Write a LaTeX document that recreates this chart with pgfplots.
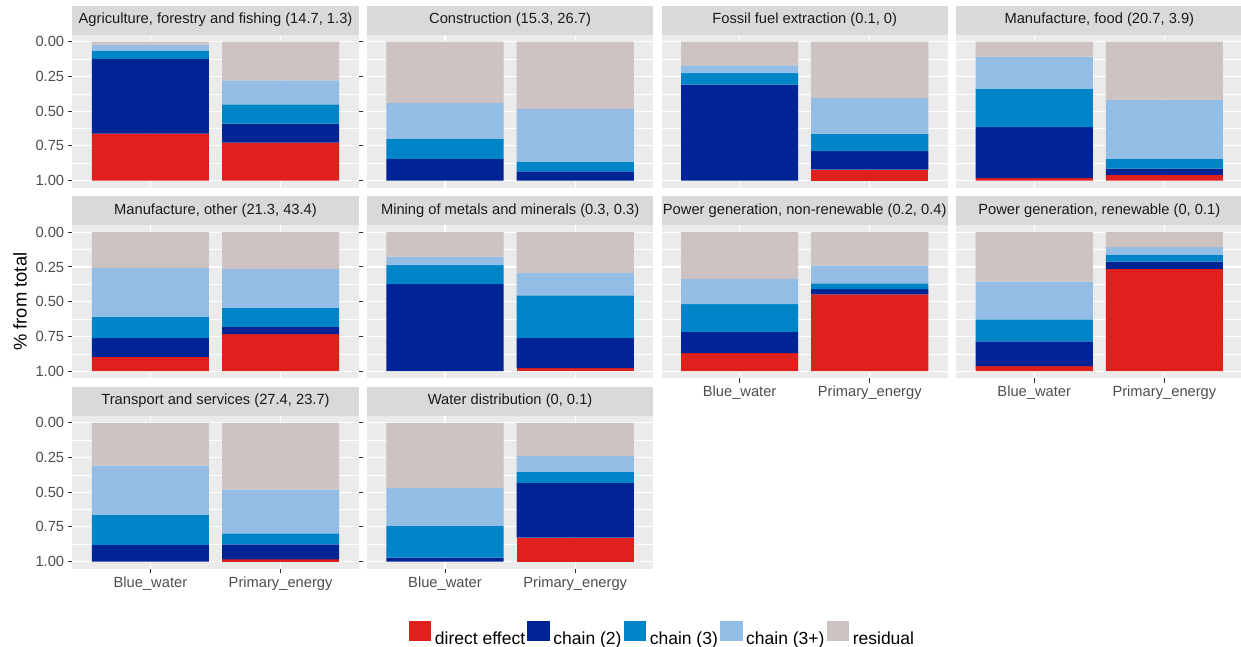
\documentclass[border=0pt]{standalone}
\usepackage{pgfplots}
\usepackage{pgfplotstable}
\pgfplotsset{compat=1.18}
\usepackage{fontspec}
\setmainfont{Liberation Sans}

\definecolor{panelbg}{HTML}{EBEBEB}
\definecolor{stripbg}{HTML}{D9D9D9}
\definecolor{stripfg}{HTML}{1A1A1A}
\definecolor{tickfg}{HTML}{4D4D4D}
\definecolor{tickmk}{HTML}{333333}
\definecolor{cdirect}{HTML}{E0201D}
\definecolor{ctwo}{HTML}{002496}
\definecolor{cthree}{HTML}{0084C8}
\definecolor{cthreep}{HTML}{93BDE4}
\definecolor{cresid}{HTML}{CEC3C3}

\newcommand\ggfont{\fontsize{14.7}{17.6}\selectfont}
\newcommand\ggtitle{\fontsize{18.4}{22}\selectfont}
\newcommand\gglegend{\fontsize{17.5}{21}\selectfont}

% shares of each effect; x = 1 Blue_water, x = 2 Primary_energy
\pgfplotstableread{
x resid c3p c3 c2 direct
1 0.020 0.045 0.058 0.538 0.339
2 0.279 0.171 0.139 0.137 0.274
}\agri
\pgfplotstableread{
x resid c3p c3 c2 direct
1 0.440 0.260 0.144 0.156 0.000
2 0.483 0.380 0.070 0.067 0.000
}\constr
\pgfplotstableread{
x resid c3p c3 c2 direct
1 0.171 0.055 0.082 0.692 0.000
2 0.406 0.255 0.127 0.133 0.079
}\fossil
\pgfplotstableread{
x resid c3p c3 c2 direct
1 0.108 0.229 0.278 0.366 0.019
2 0.416 0.428 0.069 0.046 0.041
}\food
\pgfplotstableread{
x resid c3p c3 c2 direct
1 0.258 0.350 0.155 0.134 0.103
2 0.266 0.279 0.137 0.052 0.266
}\other
\pgfplotstableread{
x resid c3p c3 c2 direct
1 0.175 0.062 0.136 0.627 0.000
2 0.292 0.163 0.308 0.215 0.022
}\mining
\pgfplotstableread{
x resid c3p c3 c2 direct
1 0.335 0.182 0.201 0.153 0.129
2 0.240 0.128 0.041 0.038 0.553
}\nonren
\pgfplotstableread{
x resid c3p c3 c2 direct
1 0.356 0.271 0.158 0.179 0.036
2 0.108 0.055 0.048 0.052 0.737
}\renew
\pgfplotstableread{
x resid c3p c3 c2 direct
1 0.309 0.353 0.218 0.120 0.000
2 0.482 0.314 0.079 0.108 0.017
}\transport
\pgfplotstableread{
x resid c3p c3 c2 direct
1 0.469 0.274 0.228 0.029 0.000
2 0.240 0.111 0.082 0.394 0.173
}\waterdist

\pgfplotsset{
  facet/.style={
    scale only axis, width=286.4pt, height=152.8pt,
    xmin=0.4, xmax=2.6, ymin=-0.05, ymax=1.05, y dir=reverse,
    ybar stacked, bar width=0.9,
    axis background/.style={fill=panelbg},
    axis line style={draw=none},
    xtick={1,2}, ytick={0,0.25,0.5,0.75,1},
    minor ytick={0.125,0.375,0.625,0.875},
    xmajorgrids, ymajorgrids, yminorgrids,
    major grid style={white, line width=1.1pt},
    minor grid style={white, line width=0.55pt},
    tick align=outside, major tick length=4.6pt, minor tick length=0pt,
    major x tick style={draw=none}, major y tick style={draw=none},
    xticklabels={}, yticklabels={},
    tick label style={font=\ggfont, text=tickfg},
    yticklabel style={/pgf/number format/.cd, fixed, fixed zerofill,
      precision=2, assume math mode=true},
    every axis title/.style={at={(axis description cs:0.5,1)}, anchor=south,
      fill=stripbg, text=stripfg, font=\ggfont, minimum width=286.4pt,
      minimum height=29pt, inner sep=0pt},
  },
  yleft/.style={yticklabels={0.00,0.25,0.50,0.75,1.00},
    major y tick style={draw=tickmk, line width=1pt}},
  xbottom/.style={xticklabels={Blue\_water,Primary\_energy},
    major x tick style={draw=tickmk, line width=1pt}},
}

\newcommand\facetbars[1]{%
  \addplot[fill=cresid, draw=none] table[x=x, y=resid] {#1};
  \addplot[fill=cthreep, draw=none] table[x=x, y=c3p] {#1};
  \addplot[fill=cthree, draw=none] table[x=x, y=c3] {#1};
  \addplot[fill=ctwo, draw=none] table[x=x, y=c2] {#1};
  \addplot[fill=cdirect, draw=none] table[x=x, y=direct] {#1};
}

\begin{document}
\begin{tikzpicture}
% row 1
\begin{axis}[facet, yleft, at={(72.3pt,458.4pt)}, anchor=south west,
  title={Agriculture, forestry and fishing (14.7, 1.3)}]
  \facetbars{\agri}
\end{axis}
\begin{axis}[facet, at={(366.9pt,458.4pt)}, anchor=south west,
  title={Construction (15.3, 26.7)}]
  \facetbars{\constr}
\end{axis}
\begin{axis}[facet, at={(661.5pt,458.4pt)}, anchor=south west,
  title={Fossil fuel extraction (0.1, 0)}]
  \facetbars{\fossil}
\end{axis}
\begin{axis}[facet, at={(956.1pt,458.4pt)}, anchor=south west,
  title={Manufacture, food (20.7, 3.9)}]
  \facetbars{\food}
\end{axis}
% row 2
\begin{axis}[facet, yleft, at={(72.3pt,267.9pt)}, anchor=south west,
  title={Manufacture, other (21.3, 43.4)},
  ylabel={\% from total},
  ylabel style={at={(axis description cs:-0.1826,0.5)}, anchor=center,
    font=\ggtitle, text=black}]
  \facetbars{\other}
\end{axis}
\begin{axis}[facet, at={(366.9pt,267.9pt)}, anchor=south west,
  title={Mining of metals and minerals (0.3, 0.3)}]
  \facetbars{\mining}
\end{axis}
\begin{axis}[facet, xbottom, at={(661.5pt,267.9pt)}, anchor=south west,
  title={Power generation, non-renewable (0.2, 0.4)}]
  \facetbars{\nonren}
\end{axis}
\begin{axis}[facet, xbottom, at={(956.1pt,267.9pt)}, anchor=south west,
  title={Power generation, renewable (0, 0.1)}]
  \facetbars{\renew}
\end{axis}
% row 3
\begin{axis}[facet, yleft, xbottom, at={(72.3pt,77.4pt)}, anchor=south west,
  title={Transport and services (27.4, 23.7)}]
  \facetbars{\transport}
\end{axis}
\begin{axis}[facet, xbottom, at={(366.9pt,77.4pt)}, anchor=south west,
  title={Water distribution (0, 0.1)},
  every axis plot post/.append style={
    legend image code/.code={\path[##1, draw=none] (0pt,-2.2pt) rectangle (22.3pt,17.8pt);}},
  reverse legend, legend columns=-1,
  legend style={at={(axis description cs:1.0293,-0.426)}, anchor=center,
    draw=none, fill=none, font=\gglegend, text=black,
    /tikz/every odd column/.append style={column sep=3.4pt},
    /tikz/every even column/.append style={column sep=2pt},
    nodes={inner sep=0.3pt}}]
  \facetbars{\waterdist}
  \legend{residual, chain (3+), chain (3), chain (2), direct effect}
\end{axis}
\pgfresetboundingbox
\useasboundingbox (0pt,0pt) rectangle (1241pt,646pt);
\end{tikzpicture}
\end{document}
